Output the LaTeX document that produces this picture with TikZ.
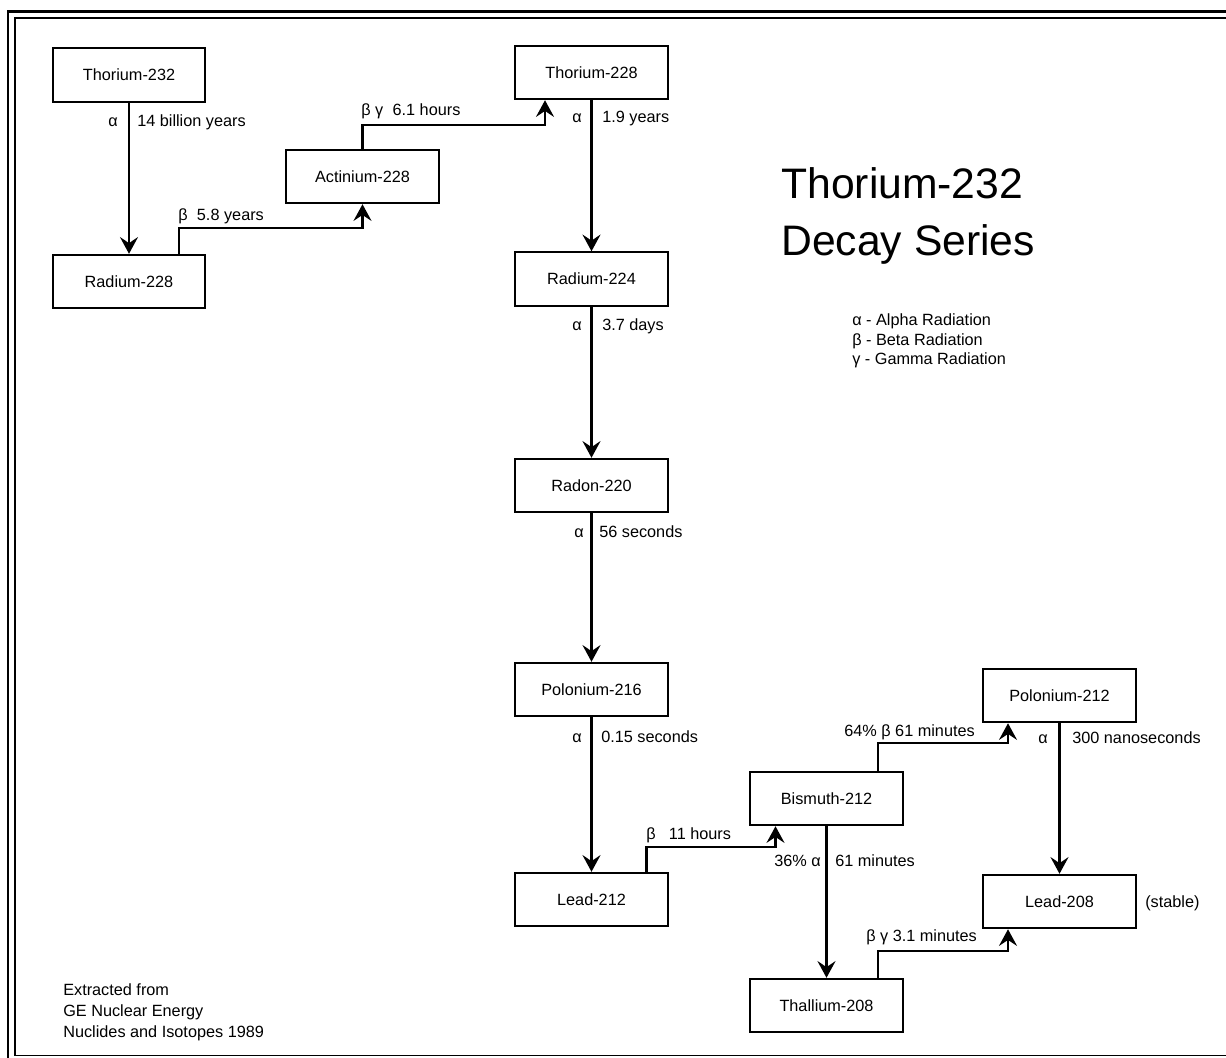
\documentclass[tikz,border=0pt]{standalone}
\usepackage{fontspec}
\setmainfont{Liberation Sans}
\usetikzlibrary{arrows.meta,calc}
\begin{document}
\begin{tikzpicture}[x=0.75pt,y=-0.75pt,
  iso/.style={draw,line width=1.6pt,minimum width=114.5pt,minimum height=40pt,inner sep=0pt,
    font=\fontsize{12.2pt}{14pt}\selectfont,text height=8.8pt,text depth=0pt},
  lbl/.style={inner sep=0pt,font=\fontsize{12.2pt}{14pt}\selectfont,text height=8.8pt,text depth=0pt},
  lblw/.style={lbl,anchor=west},
  lble/.style={lbl,anchor=east},
  arr/.style={line width=1.6pt,-{Stealth[length=12.5pt,width=13.5pt,inset=4.5pt]}},
  ttl/.style={inner sep=0pt,anchor=west,font=\fontsize{32pt}{38pt}\selectfont,text height=23pt,text depth=0pt}
]
\useasboundingbox (0,0) rectangle (1226,1057);
% frame
\draw[line width=1.6pt] (8,11.5) rectangle (1252,1066);
\draw[line width=0.8pt] (15,18) rectangle (1240,1055.5);

% isotopes
\node[iso] (th232) at (129,75) {Thorium-232};
\node[iso] (ra228) at (129,281.5) {Radium-228};
\node[iso] (ac228) at (362.5,176.5) {Actinium-228};
\node[iso] (th228) at (591.5,72.5) {Thorium-228};
\node[iso] (ra224) at (591.5,279) {Radium-224};
\node[iso] (rn220) at (591.5,485.5) {Radon-220};
\node[iso] (po216) at (591.5,689.5) {Polonium-216};
\node[iso] (pb212) at (591.5,899.5) {Lead-212};
\node[iso] (bi212) at (826.5,798.5) {Bismuth-212};
\node[iso] (tl208) at (826.5,1005.5) {Thallium-208};
\node[iso] (po212) at (1059.5,695.5) {Polonium-212};
\node[iso] (pb208) at (1059.5,901.5) {Lead-208};

% connectors
\draw[arr] (th232) -- (ra228);
\draw[arr] ($(ra228.north)+(50,0)$) -- ++(0,-26) -| (ac228.south);
\draw[arr] (ac228.north) -- ++(0,-23.5) -| ($(th228.south)+(-46.5,0)$);
\draw[arr] (th228) -- (ra224);
\draw[arr] (ra224) -- (rn220);
\draw[arr] (rn220) -- (po216);
\draw[arr] (po216) -- (pb212);
\draw[arr] ($(pb212.north)+(55,0)$) -- ++(0,-25) -| ($(bi212.south)+(-51,0)$);
\draw[arr] ($(bi212.north)+(51.5,0)$) -- ++(0,-28) -| ($(po212.south)+(-51.5,0)$);
\draw[arr] (bi212) -- (tl208);
\draw[arr] (po212) -- (pb208);
\draw[arr] ($(tl208.north)+(51.5,0)$) -- ++(0,-27) -| ($(pb208.south)+(-51.5,0)$);

% decay labels
\node[lble] (a1) at (118,121) {α};
\node[lblw] (t1) at (137,121) {14 billion years};
\node[lblw] (t2) at (178,215) {β\hspace{7pt}5.8 years};
\node[lblw] (t3) at (361,110) {β γ\hspace{7pt}6.1 hours};
\node[lble] (a4) at (582,117) {α};
\node[lblw] (t4) at (602,117) {1.9 years};
\node[lble] (a5) at (582,325) {α};
\node[lblw] (t5) at (602,325) {3.7 days};
\node[lble] (a6) at (584,532) {α};
\node[lblw] (t6) at (599,532) {56 seconds};
\node[lble] (a7) at (582,737) {α};
\node[lblw] (t7) at (601,737) {0.15 seconds};
\node[lblw] (t8) at (646,834) {β\hspace{10pt}11 hours};
\node[lblw] (t9) at (844,731) {64\% β 61 minutes};
\node[lble] (a10) at (821,861) {36\% α};
\node[lblw] (t10) at (835,861) {61 minutes};
\node[lble] (a11) at (1048,738) {α};
\node[lblw] (t11) at (1072,738) {300 nanoseconds};
\node[lblw] (t12) at (866,936) {β γ 3.1 minutes};
\node[lblw] (st) at (1145,902) {(stable)};

% title
\node[ttl] (title1) at (781,183) {Thorium-232};
\node[ttl] (title2) at (781,240) {Decay Series};

% legend
\node[lblw] (lg1) at (852,320) {α - Alpha Radiation};
\node[lblw] (lg2) at (852,339.5) {β - Beta Radiation};
\node[lblw] (lg3) at (852,359) {γ - Gamma Radiation};

% source
\node[lblw] (src1) at (63,990) {Extracted from};
\node[lblw] (src2) at (63,1011) {GE Nuclear Energy};
\node[lblw] (src3) at (63,1032) {Nuclides and Isotopes 1989};
\end{tikzpicture}
\end{document}
